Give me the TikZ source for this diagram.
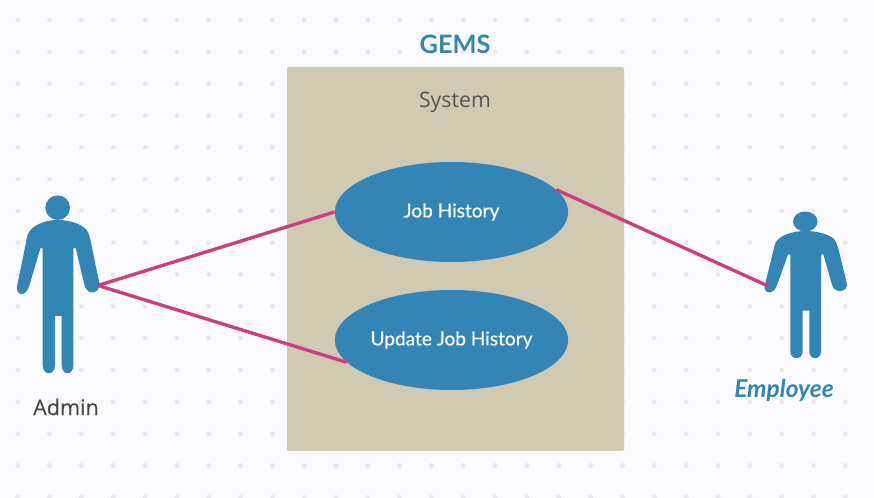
\documentclass[tikz,border=0pt]{standalone}
\usepackage{fontspec}
\setmainfont{Lato}
\newfontfamily\opensans{Open Sans}
\newfontfamily\latomed[FakeBold=0.25]{Lato}
\newfontfamily\opensansmed[FakeBold=0.3]{Open Sans}
\usetikzlibrary{shapes.geometric}
\definecolor{bgc}{HTML}{FBFBFE}
\definecolor{dotc}{HTML}{E9E9EC}
\definecolor{sysc}{HTML}{D0CAB3}
\definecolor{bluec}{HTML}{3385B5}
\definecolor{pinkc}{HTML}{CC3F7C}
\definecolor{txtc}{HTML}{555555}
\tikzset{
  usecase/.style={ellipse,fill=bluec,minimum width=175pt,minimum height=75pt,inner sep=0pt,text=white,font=\latomed\fontsize{14.3}{16}\selectfont},
  assoc/.style={draw=pinkc,line width=2.5pt},
  figshape/.style={fill=bluec,draw=none},
  titletext/.style={text=bluec,font=\fontsize{19}{22}\selectfont\bfseries},
  greytext/.style={text=txtc,font=\opensans\fontsize{16}{18}\selectfont},
}
\newcommand{\figbody}{%
  \fill[figshape] (0,0) .. controls (12,0) and (24,4) .. (29,10)
    .. controls (31,13) and (32,17) .. (33,21)
    -- (41.3,61.7) .. controls (44,74) and (29,77) .. (26.5,64)
    -- (18,28) -- (15.7,28.5) -- (15.7,145)
    .. controls (15.7,156) and (4,156) .. (4,145)
    -- (4,96) -- (-2.7,96) -- (-2.7,145)
    .. controls (-2.7,156) and (-15,156) .. (-15,145)
    -- (-15,28.5) -- (-17.2,28) -- (-28.5,66)
    .. controls (-32,78) and (-44,76) .. (-40,63)
    -- (-32,24) .. controls (-31,17) and (-30,13) .. (-27,10)
    .. controls (-22,4) and (-11,0) .. (0,0) -- cycle;
}
\begin{document}
\begin{tikzpicture}[x=0.75pt,y=-0.75pt]
\useasboundingbox (0,0) rectangle (874,498);
\fill[bgc] (0,0) rectangle (874,498);
\foreach \i in {0,...,27}{\foreach \j in {0,...,15}{
  \fill[dotc] ({17.7+31.83*\i},{19.9+31.83*\j}) circle (1.8pt);
}}
\fill[sysc,rounded corners=1pt] (287,67) rectangle (624,451);
\node[titletext] (title) at (455,44.5) {GEMS};
\node[greytext] (system) at (455,102) {System};
\node[usecase] (uc1) at (451.5,212) {\raisebox{-1.5pt}{Job History}};
\node[usecase] (uc2) at (451.5,340) {\raisebox{-1pt}{Update Job History}};
% Admin
\begin{scope}[shift={(57.7,220)}]
  \figbody
\end{scope}
\fill[figshape] (57.7,207.7) circle [x radius=12.3,y radius=12.3];
\coordinate (adminhand) at (98,285.5);
% Employee
\begin{scope}[shift={(805.3,231)},yscale=0.83]
  \figbody
\end{scope}
\fill[figshape] (805.3,221.5) circle [x radius=12.3,y radius=10];
\coordinate (emphand) at (768,286);
\node[inner sep=0pt,text=black!72,font=\opensansmed\fontsize{16.2}{18}\selectfont] (admin) at (66,407) {Admin};
\node[text=bluec,inner sep=0pt,font=\fontsize{18.4}{22}\selectfont\bfseries\itshape] (emp) at (784,390) {Employee};
\draw[assoc] (adminhand) -- (uc1.west);
\draw[assoc] (adminhand) -- (uc2.192);
\draw[assoc] (uc1.12) -- (emphand);
\end{tikzpicture}
\end{document}
